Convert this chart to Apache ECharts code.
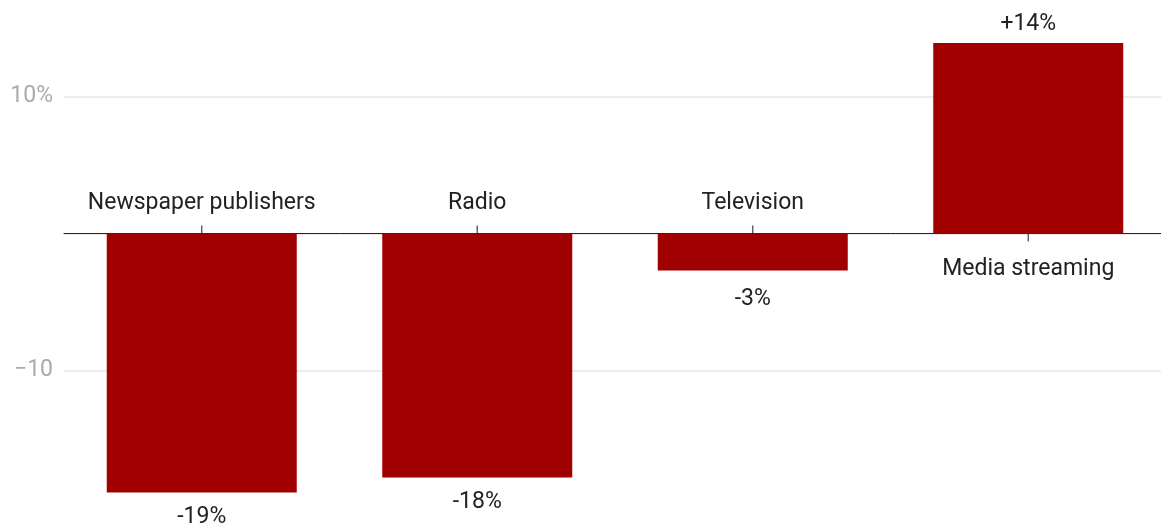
<!DOCTYPE html>
<html>
<head>
<meta charset="utf-8">
<title>Media revenue change</title>
<script src="https://cdn.jsdelivr.net/npm/echarts@6/dist/echarts.min.js"></script>
<style>
  html, body { margin: 0; padding: 0; background: #fff; overflow: hidden; }
  #chart { width: 1166px; height: 523px; }
</style>
</head>
<body>
<div id="chart"></div>
<script>
  // 数据
  var categories = ['Newspaper publishers', 'Radio', 'Television', 'Media streaming'];
  var values = [-18.9, -17.8, -2.7, 13.9];
  var valueLabels = ['-19%', '-18%', '-3%', '+14%'];
  var yTicks = { '10': '10%', '-10': '\u221210' };

  var barColor = '#a00000';
  var textColor = '#222';
  var fontSize = 23;

  var chart = echarts.init(document.getElementById('chart'));

  // 柱子 + 数值标签
  var barData = values.map(function (v, i) {
    return {
      value: v,
      label: {
        position: v < 0 ? 'bottom' : 'top',
        distance: v < 0 ? (i === 2 ? 17 : 13) : 7
      }
    };
  });

  // 透明柱子，只用来放类目名称
  var nameData = values.map(function (v) {
    return {
      value: v,
      label: {
        position: v < 0 ? 'top' : 'bottom',
        distance: v < 0 ? 19 : 24
      }
    };
  });

  // 刻度：朝向类目名称那一侧
  var tickData = categories.map(function (c, i) {
    return {
      value: [c, 0],
      symbolOffset: [0, values[i] < 0 ? -4 : 4]
    };
  });

  var option = {
    animation: false,
    grid: { left: 64, right: 0, top: 28, bottom: 15.3, containLabel: false },
    xAxis: {
      type: 'category',
      data: categories,
      axisLine: { onZero: true, lineStyle: { color: '#222', width: 1 } },
      axisTick: { show: false },
      axisLabel: { show: false }
    },
    yAxis: {
      type: 'value',
      min: -20,
      max: 15,
      interval: 10,
      axisLine: { show: false },
      axisTick: { show: false },
      splitLine: {
        show: true,
        showMinLine: false,
        showMaxLine: false,
        lineStyle: { color: '#e6e6e6', width: 1.5 }
      },
      axisLabel: {
        margin: 11,
        color: '#aaa',
        fontFamily: 'Roboto',
        fontSize: fontSize,
        formatter: function (v) { return yTicks[String(v)] || ''; }
      }
    },
    series: [{
      type: 'bar',
      data: barData,
      barWidth: 190,
      barGap: '-100%',
      itemStyle: { color: barColor },
      label: {
        show: true,
        color: textColor,
        fontFamily: 'Roboto',
        fontSize: fontSize,
        formatter: function (p) { return valueLabels[p.dataIndex]; }
      }
    }, {
      type: 'bar',
      data: nameData,
      barWidth: 190,
      barGap: '-100%',
      silent: true,
      itemStyle: { color: 'rgba(0,0,0,0)' },
      label: {
        show: true,
        color: textColor,
        fontFamily: 'Roboto',
        fontSize: fontSize,
        formatter: function (p) { return categories[p.dataIndex]; }
      }
    }, {
      type: 'scatter',
      data: tickData,
      symbol: 'rect',
      symbolSize: [1.3, 8],
      silent: true,
      z: 5,
      itemStyle: { color: '#222' }
    }]
  };

  chart.setOption(option);
</script>
</body>
</html>
